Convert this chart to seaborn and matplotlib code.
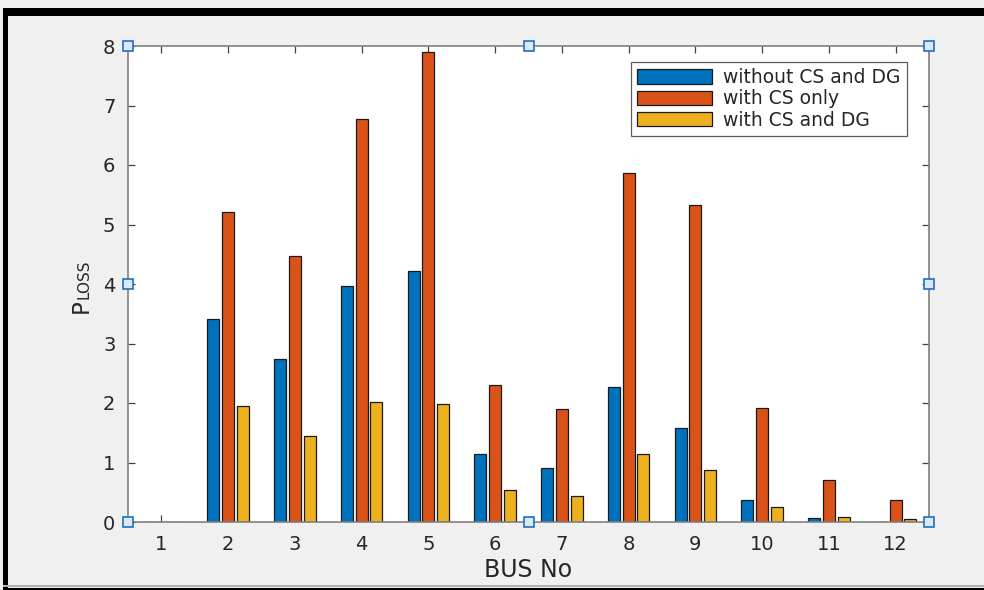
import matplotlib
matplotlib.use("Agg")
import matplotlib.pyplot as plt
import seaborn as sns
import pandas as pd
from matplotlib.patches import Rectangle

# ---- data ----
buses = [1, 2, 3, 4, 5, 6, 7, 8, 9, 10, 11, 12]
without_cs_dg = [0, 3.41, 2.74, 3.97, 4.22, 1.14, 0.91, 2.27, 1.58, 0.37, 0.07, 0.0]
with_cs_only = [0, 5.21, 4.47, 6.77, 7.90, 2.30, 1.90, 5.87, 5.33, 1.92, 0.71, 0.37]
with_cs_dg = [0, 1.95, 1.45, 2.02, 1.98, 0.54, 0.44, 1.14, 0.87, 0.25, 0.08, 0.05]
series_names = ["without CS and DG", "with CS only", "with CS and DG"]
colors = ["#0072BD", "#D95319", "#EDB120"]

df = pd.DataFrame({
    "bus": [str(b) for b in buses] * 3,
    "loss": without_cs_dg + with_cs_only + with_cs_dg,
    "series": [series_names[0]] * 12 + [series_names[1]] * 12 + [series_names[2]] * 12,
})

sns.set_theme(style="white")
plt.rcParams["font.family"] = ["DejaVu Sans"]

W, H = 984, 590
fig = plt.figure(figsize=(W / 100, H / 100), dpi=100, facecolor="#F0F0F0")
ax = fig.add_axes([128 / W, 1 - 522 / H, (929 - 128) / W, (522 - 46) / H])
ax.set_facecolor("white")

sns.barplot(data=df, x="bus", y="loss", hue="series", order=[str(b) for b in buses],
            hue_order=series_names, palette=colors, width=0.66, gap=0.18,
            edgecolor="#1a1a1a", linewidth=0.9, ax=ax, saturation=1, errorbar=None)

ax.set_xlim(-0.5, 11.5)
ax.set_ylim(0, 8)
ax.set_yticks(range(0, 9))
ax.set_xlabel("BUS No", fontsize=17, color="#262626", labelpad=3)
ax.set_ylabel("")

# y label "P" + "LOSS" (smaller), rotated
fig.text(88 / W, 1 - 313 / H, "P", rotation=90, rotation_mode="anchor",
         ha="left", va="baseline", fontsize=16.5, color="#262626")
fig.text(88 / W, 1 - 299 / H, "LOSS", rotation=90, rotation_mode="anchor",
         ha="left", va="baseline", fontsize=11, color="#262626")

for s in ax.spines.values():
    s.set_color("#808080")
    s.set_linewidth(1.2)
    s.set_visible(True)
ax.tick_params(axis="both", direction="in", length=5, width=0.9, color="#404040",
               labelsize=14, labelcolor="#262626", top=True, right=True,
               bottom=True, left=True)
ax.tick_params(axis="x", pad=9)
ax.tick_params(axis="y", pad=9)

leg = ax.legend(loc="upper right", bbox_to_anchor=(0.9725, 0.966), fontsize=13.5,
                frameon=True, fancybox=False, edgecolor="#333333",
                handlelength=4.0, handleheight=0.8, labelspacing=0.12,
                borderpad=0.32, handletextpad=0.6, borderaxespad=0)
leg.get_frame().set_linewidth(0.9)
for t in leg.get_texts():
    t.set_color("#262626")

# selection handles (MATLAB edit mode)
hx = [0, 0.5, 1, 0, 1, 0, 0.5, 1]
hy = [1, 1, 1, 0.5, 0.5, 0, 0, 0]
ax.plot(hx, hy, ls="none", marker="s", markersize=7, markerfacecolor="#dbe8f5",
        markeredgecolor="#1f6fbf", markeredgewidth=1.2, transform=ax.transAxes,
        clip_on=False, zorder=10)

# window borders
fig.patches.append(Rectangle((3 / W, 1 - 16 / H), 1, 8 / H, transform=fig.transFigure,
                             facecolor="black", edgecolor="none"))
fig.patches.append(Rectangle((3 / W, 0), 5 / W, 1 - 8 / H, transform=fig.transFigure,
                             facecolor="black", edgecolor="none"))
fig.patches.append(Rectangle((3 / W, 0), 1, 2.5 / H, transform=fig.transFigure,
                             facecolor="black", edgecolor="none"))
fig.patches.append(Rectangle((3 / W, 3.5 / H), 1, 1.5 / H, transform=fig.transFigure,
                             facecolor="#b0b0b0", edgecolor="none"))

fig.savefig("out.png", dpi=100, facecolor=fig.get_facecolor())
